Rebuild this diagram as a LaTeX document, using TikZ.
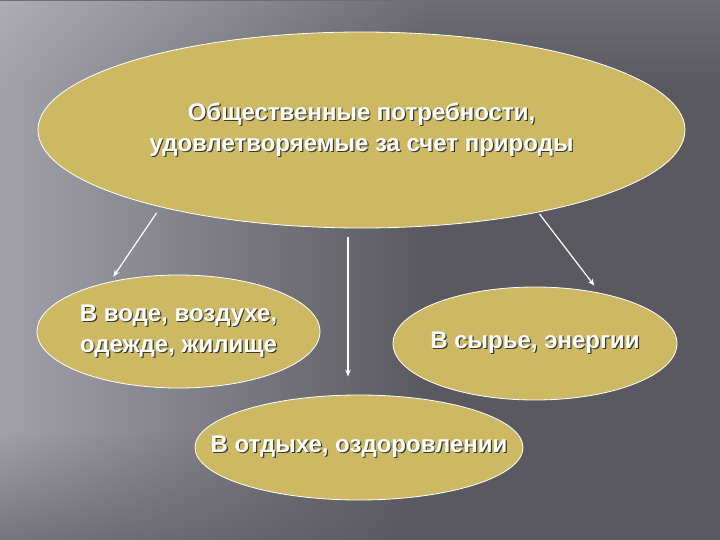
\documentclass[tikz,border=0pt]{standalone}
\usepackage{fontspec}
\setmainfont{Liberation Sans}
\usetikzlibrary{shapes.geometric,arrows.meta,fadings}

\definecolor{khaki}{HTML}{CDB963}
\definecolor{slatebg}{HTML}{5A5960}
\definecolor{slatelight}{HTML}{A2A2AA}
\definecolor{textshade}{HTML}{3A382E}

\tikzfading[name=glow, top color=transparent!100, middle color=transparent!0, bottom color=transparent!100]
\tikzfading[name=fade right, left color=transparent!0, right color=transparent!100]
\tikzfading[name=fade down, top color=transparent!0, bottom color=transparent!100]
\tikzfading[name=fade up, top color=transparent!100, bottom color=transparent!0]

% white text with a dark drop shadow (zero width, so the ellipse keeps its size)
\newcommand\shline[1]{\makebox[0pt]{\rlap{\kern1.2pt\raisebox{-1.2pt}{\color{textshade}#1}}#1}}

\tikzset{
  bubble/.style={ellipse, draw=white, line width=0.8pt, fill=khaki, inner sep=0pt,
    align=center, text=white, font=\fontsize{24}{31}\selectfont\bfseries},
  link/.style={draw=white, line width=1.2pt, -{Stealth[length=7pt,width=5.5pt]}},
  streak/.style={fill=white, path fading=glow, fit fading=true},
}

\begin{document}
\begin{tikzpicture}[x=1pt,y=-1pt]
	%%%%% BACKGROUND %%%%%
	\useasboundingbox (0,0) rectangle (720,540);
	\clip (0,0) rectangle (720,540);
	\fill[slatebg] (0,0) rectangle (720,540);
	\fill[slatelight, path fading=fade right] (0,0) rectangle (430,540);
	\fill[slatebg, opacity=0.6, path fading=fade up] (0,430) rectangle (720,540);
	\fill[white, opacity=0.12, path fading=fade down] (0,0) rectangle (720,90);
	\fill[streak, opacity=0.28, rotate around={-15:(250,240)}] (-100,200) rectangle (600,280);
	\fill[streak, opacity=0.2, rotate around={-14:(120,390)}] (-100,368) rectangle (340,412);
	\fill[streak, opacity=0.18, rotate around={-35:(40,60)}] (-160,0) rectangle (240,120);
	
	%%%%% NODES %%%%%
	\node[bubble, minimum width=647pt, minimum height=196pt] (top) at (361.5,130)
		{\shline{Общественные потребности,}\\\shline{удовлетворяемые за счет природы}};
	\node[bubble, minimum width=283pt, minimum height=113pt] (left) at (178.5,331.5)
		{\shline{В воде, воздухе,}\\\shline{одежде, жилище}};
	\node[bubble, minimum width=284pt, minimum height=113pt] (right) at (535,343.5)
		{\shline{В сырье, энергии}};
	\node[bubble, minimum width=328pt, minimum height=105pt] (bottom) at (359,447.5)
		{\shline{В отдыхе, оздоровлении}};
	
	%%%%% ARROWS %%%%%
	\draw[link, shorten <=7pt, shorten >=6pt] (top.201.4) -- (left.144.5);
	\draw[link, shorten <=2pt, shorten >=9pt] (top.335.6) -- (right.38.4);
	\draw[link, shorten <=9pt, shorten >=18pt] ([xshift=-13.5pt]top.south) -- ([xshift=-11pt]bottom.north);
\end{tikzpicture}
\end{document}
